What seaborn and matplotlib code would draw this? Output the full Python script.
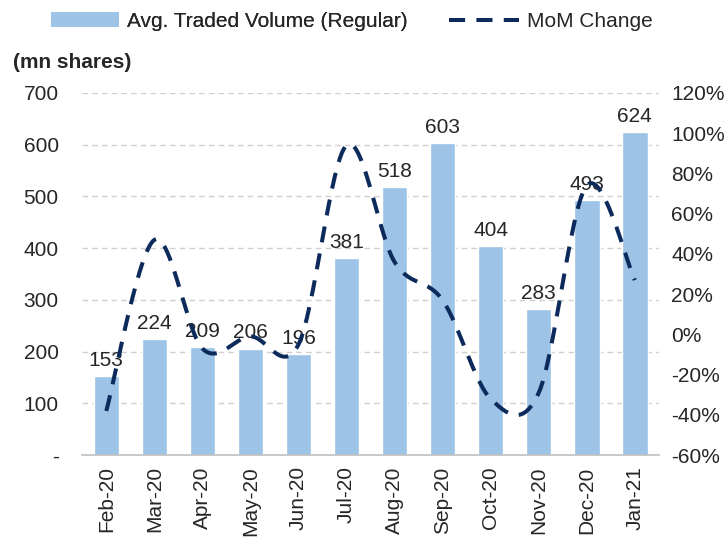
import numpy as np
import pandas as pd
import matplotlib
matplotlib.use("Agg")
import matplotlib.pyplot as plt
import seaborn as sns
from matplotlib.ticker import FixedLocator, FuncFormatter
from matplotlib.patches import Patch
from matplotlib.lines import Line2D

# Data
months = ["Feb-20", "Mar-20", "Apr-20", "May-20", "Jun-20", "Jul-20",
          "Aug-20", "Sep-20", "Oct-20", "Nov-20", "Dec-20", "Jan-21"]
volume = [153, 224, 209, 206, 196, 381, 518, 603, 404, 283, 493, 624]
mom_change = [-38, 47, -7, -1, -5, 94, 36, 17, -32, -29, 74, 27]

BAR_COLOR = "#9dc3e6"
LINE_COLOR = "#0c2a5b"
FONT = 15
DASH = (0, (4.0, 2.8))


def smooth_curve(y, steps=30):
    """Excel-style smoothed line (Catmull-Rom through the points)."""
    y = np.asarray(y, dtype=float)
    x = np.arange(len(y), dtype=float)
    px = np.concatenate([[x[0]], x, [x[-1]]])
    py = np.concatenate([[y[0]], y, [y[-1]]])
    xs, ys = [], []
    t = np.linspace(0, 1, steps)
    for i in range(1, len(px) - 2):
        for p, out in ((px, xs), (py, ys)):
            p0, p1, p2, p3 = p[i - 1], p[i], p[i + 1], p[i + 2]
            out.extend(0.5 * ((2 * p1) + (-p0 + p2) * t
                              + (2 * p0 - 5 * p1 + 4 * p2 - p3) * t ** 2
                              + (-p0 + 3 * p1 - 3 * p2 + p3) * t ** 3))
    return np.array(xs), np.array(ys)


sns.set_style("white")
plt.rcParams["font.family"] = ["Liberation Sans", "DejaVu Sans"]

fig = plt.figure(figsize=(7.28, 5.4), dpi=100)
ax = fig.add_axes([0.113, 0.157, 0.792, 0.671])

df = pd.DataFrame({"month": months, "volume": volume})
sns.barplot(data=df, x="month", y="volume", color=BAR_COLOR, width=0.53,
            saturation=1, ax=ax, zorder=2)

for i, v in enumerate(volume):
    ax.text(i, v + 12, str(v), ha="center", va="bottom", fontsize=FONT, zorder=5)

ax.set_ylim(0, 700)
ax.set_xlim(-0.5, len(months) - 0.5)
ax.set_yticks(range(0, 701, 100))
ax.yaxis.set_major_formatter(FuncFormatter(lambda v, _: "-" if v == 0 else f"{int(v)}"))
ax.grid(axis="y", color="#d0d0d0", linestyle=(0, (4, 3)), linewidth=1, zorder=0)
ax.set_axisbelow(True)
ax.set_xlabel("")
ax.set_ylabel("")
for s in ["top", "left", "right"]:
    ax.spines[s].set_visible(False)
ax.spines["bottom"].set_color("#bfbfbf")
ax.spines["bottom"].set_linewidth(1.2)
ax.tick_params(axis="y", length=0, pad=17, labelsize=FONT)
ax.tick_params(axis="x", which="major", length=0, pad=8, labelsize=FONT, rotation=90)
ax.xaxis.set_minor_locator(FixedLocator(np.arange(-0.5, len(months), 1.0)))
ax.tick_params(axis="x", which="minor", length=8, color="#bfbfbf", width=1.2)

ax2 = ax.twinx()
sx, sy = smooth_curve(mom_change)
sns.lineplot(x=sx, y=sy, ax=ax2, color=LINE_COLOR, linewidth=2.9, sort=False,
             dashes=False, zorder=4)
ax2.lines[0].set_linestyle(DASH)
ax2.set_ylim(-60, 120)
ax2.set_yticks(range(-60, 121, 20))
ax2.yaxis.set_major_formatter(FuncFormatter(lambda v, _: f"{int(v)}%"))
ax2.tick_params(axis="y", length=0, pad=9, labelsize=FONT)
for s in ["top", "left", "right", "bottom"]:
    ax2.spines[s].set_visible(False)
ax2.grid(False)

# legend: two pieces so the handles can have their own lengths
leg1 = fig.legend(handles=[Patch(facecolor=BAR_COLOR, edgecolor="none",
                                 label="Avg. Traded Volume (Regular)")],
                  loc="center left", bbox_to_anchor=(0.07, 0.96), frameon=False,
                  fontsize=FONT, handlelength=3.27, handleheight=0.75,
                  handletextpad=0.38, borderaxespad=0, borderpad=0)
fig.add_artist(leg1)
fig.legend(handles=[Line2D([0], [0], color=LINE_COLOR, linewidth=2.9,
                           linestyle=DASH, label="MoM Change")],
           loc="center left", bbox_to_anchor=(0.617, 0.96), frameon=False,
           fontsize=FONT, handlelength=3.37, handletextpad=0.38,
           borderaxespad=0, borderpad=0)

fig.text(0.018, 0.885, "(mn shares)", fontsize=FONT, fontweight="bold", va="center")

fig.savefig("out.png", dpi=100)
